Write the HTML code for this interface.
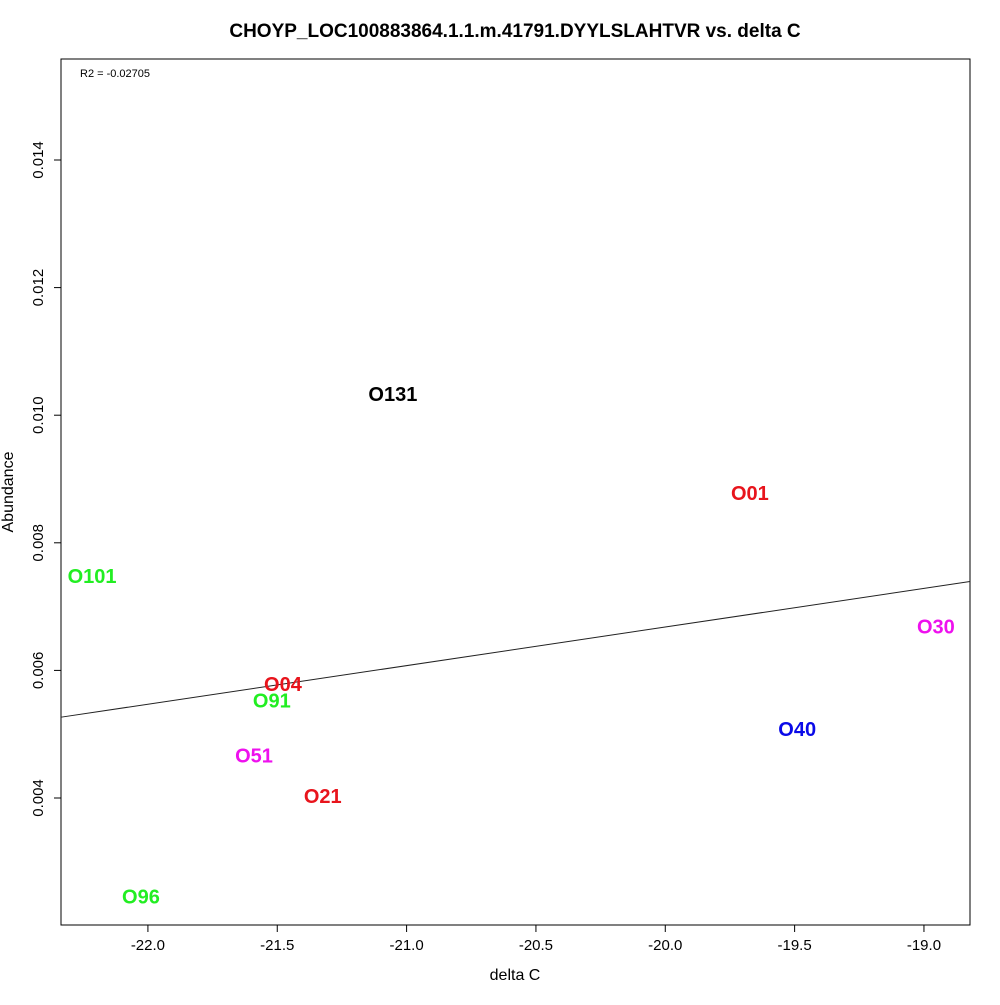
<!DOCTYPE html>
<html><head><meta charset="utf-8"><style>
body{margin:0;background:#fff;}
svg text{font-family:"Liberation Sans",Arial,sans-serif;}
</style></head><body>
<svg id="chart" width="1000" height="1000" xmlns="http://www.w3.org/2000/svg">
<rect width="1000" height="1000" fill="#fff"/>
<text x="515" y="37" text-anchor="middle" font-size="19" font-weight="bold">CHOYP_LOC100883864.1.1.m.41791.DYYLSLAHTVR vs. delta C</text>
<rect x="61" y="59" width="909" height="866" fill="none" stroke="#000" stroke-width="1"/>
<text x="80" y="77" font-size="11">R2 = -0.02705</text>
<text x="515" y="980" text-anchor="middle" font-size="16">delta C</text>
<text transform="translate(13,492) rotate(-90)" text-anchor="middle" font-size="16">Abundance</text>
<g id="xaxis"></g>
<g id="yaxis"></g>
<g id="marks"></g>
</svg>
<script>
const xTicks = [-22.0, -21.5, -21.0, -20.5, -20.0, -19.5, -19.0];
const yTicks = [0.004, 0.006, 0.008, 0.010, 0.012, 0.014];
const labels = ["O131","O01","O101","O30","O04","O91","O40","O51","O21","O96"];
const xVals = [-21.053,-19.673,-22.216,-18.954,-21.478,-21.521,-19.49,-21.590,-21.324,-22.027];
const yVals = [0.01033,0.00878,0.00748,0.00669,0.00579,0.00553,0.00508,0.00467,0.00403,0.00246];
const colors = ["#000000","#e8141c","#22ee22","#ee11ee","#e8141c","#22ee22","#0a0ae8","#ee11ee","#e8141c","#22ee22"];
const fitSlope = 0.000605;
const fitIntercept = 0.01878;

const NS="http://www.w3.org/2000/svg";
const X0=61,X1=970,Y0=59,Y1=925;
const xMin=-22.336,xMax=-18.822;
function sx(v){return X0+(v-xMin)/(xMax-xMin)*(X1-X0);}
function sy(v){return 798-(v-0.004)*63800;}
function mk(t,a,p){const e=document.createElementNS(NS,t);for(const k in a)e.setAttribute(k,a[k]);p.appendChild(e);return e;}
const xa=document.getElementById('xaxis'),ya=document.getElementById('yaxis'),mg=document.getElementById('marks');
mk('line',{x1:sx(xTicks[0]),x2:sx(xTicks[xTicks.length-1]),y1:Y1,y2:Y1,stroke:'#000'},xa);
xTicks.forEach(t=>{
  const l=mk('line',{x1:sx(t),x2:sx(t),y1:Y1,y2:Y1+7,stroke:'#000'},xa);
  
  
  const tx=mk('text',{x:sx(t),y:Y1+25,'text-anchor':'middle','font-size':15},xa);
  tx.textContent=t.toFixed(1);
  
  
});
mk('line',{x1:X0,x2:X0,y1:sy(yTicks[0]),y2:sy(yTicks[yTicks.length-1]),stroke:'#000'},ya);
yTicks.forEach(t=>{
  const l=mk('line',{x1:X0-7,x2:X0,y1:sy(t),y2:sy(t),stroke:'#000'},ya);
  
  
  const tx=mk('text',{transform:`translate(${X0-18},${sy(t)}) rotate(-90)`,'text-anchor':'middle','font-size':15},ya);
  tx.textContent=t.toFixed(3);
  
  
});
const fl=mk('line',{x1:X0,x2:X1,y1:sy(fitIntercept+fitSlope*xMin),y2:sy(fitIntercept+fitSlope*xMax),stroke:'#222','stroke-width':1},mg);


labels.forEach((s,i)=>{
  const tx=mk('text',{x:sx(xVals[i]),y:sy(yVals[i])+7,'text-anchor':'middle','font-size':20,'font-weight':'bold',fill:colors[i]},mg);
  tx.textContent=s;
  
  
});
</script>
</body></html>
